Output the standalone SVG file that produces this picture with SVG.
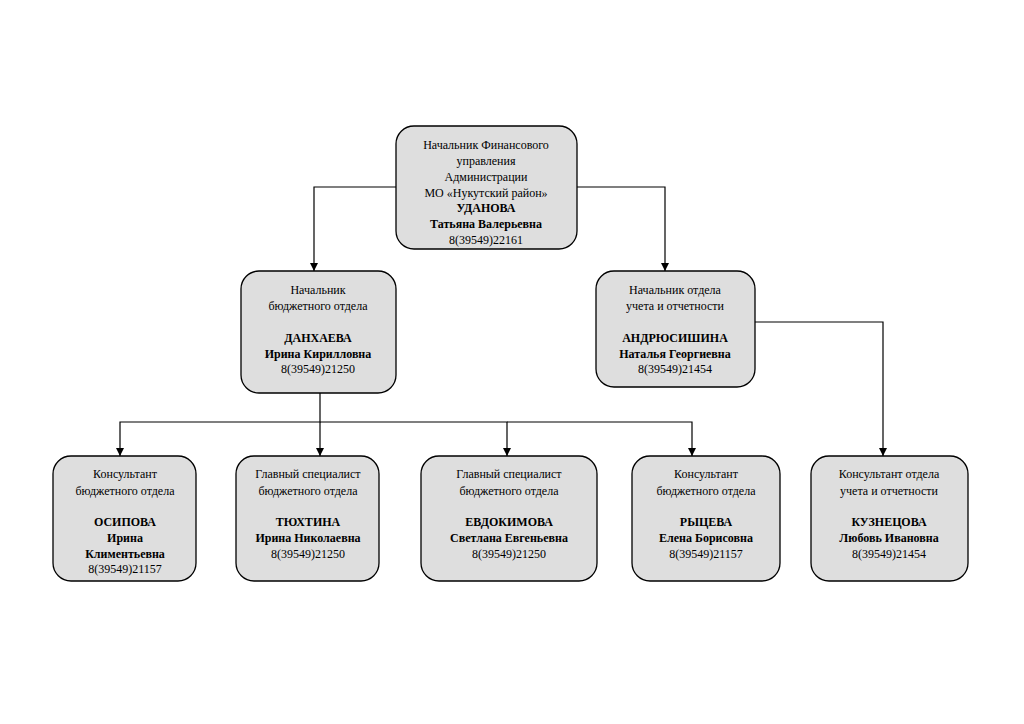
<svg xmlns="http://www.w3.org/2000/svg" width="1024" height="724" viewBox="0 0 1024 724">
<defs>
<marker id="a" viewBox="0 0 10 10" refX="10" refY="5" markerWidth="8" markerHeight="8" markerUnits="userSpaceOnUse" orient="auto"><path d="M0,0 L10,5 L0,10 z" fill="#000"/></marker>
<style>
.b{fill:#dedede;stroke:#000;stroke-width:1.3}
text{font-family:"Liberation Serif","Times New Roman",serif;font-size:12px;text-anchor:middle;fill:#000}
.k{font-weight:bold}
#c path{fill:none;stroke:#000;stroke-width:1.2;marker-end:url(#a)}
</style>
<clipPath id="cp"><rect x="396" y="126" width="181" height="123" rx="18"/></clipPath>
</defs>
<rect width="1024" height="724" fill="#fff"/>
<g id="c">
<path d="M396,187 H314 V271"/>
<path d="M577,187 H665 V271"/>
<path d="M320,393 V422 H120 V456"/>
<path d="M320,422 V456"/>
<path d="M320,422 H507 V456"/>
<path d="M507,422 H692 V456"/>
<path d="M755,322 H883 V456"/>
</g>
<g id="n0"><rect class="b" x="396" y="126" width="181" height="123" rx="18"/>
<g clip-path="url(#cp)"><text x="486" y="149">Начальник Финансового</text><text x="486" y="165">управления</text><text x="486" y="181">Администрации</text><text x="486" y="197">МО «Нукутский район»</text><text class="k" x="486" y="212">УДАНОВА</text><text class="k" x="486" y="228">Татьяна Валерьевна</text><text x="486" y="244">8(39549)22161</text></g></g>
<g id="n1"><rect class="b" x="241" y="271" width="155" height="122" rx="18"/>
<text x="318" y="294">Начальник</text><text x="318" y="310">бюджетного отдела</text><text class="k" x="318" y="342">ДАНХАЕВА</text><text class="k" x="318" y="358">Ирина Кирилловна</text><text x="318" y="373">8(39549)21250</text></g>
<g id="n2"><rect class="b" x="596" y="271" width="159" height="116" rx="18"/>
<text x="675" y="294">Начальник отдела</text><text x="675" y="310">учета и отчетности</text><text class="k" x="675" y="342">АНДРЮСИШИНА</text><text class="k" x="675" y="358">Наталья Георгиевна</text><text x="675" y="373">8(39549)21454</text></g>
<g id="n3"><rect class="b" x="53" y="456" width="143" height="125" rx="18"/>
<text x="125" y="478">Консультант</text><text x="125" y="495">бюджетного отдела</text><text class="k" x="125" y="526">ОСИПОВА</text><text class="k" x="125" y="542">Ирина</text><text class="k" x="125" y="558">Климентьевна</text><text x="125" y="573">8(39549)21157</text></g>
<g id="n4"><rect class="b" x="236" y="456" width="143" height="125" rx="18"/>
<text x="308" y="478">Главный специалист</text><text x="308" y="495">бюджетного отдела</text><text class="k" x="308" y="526">ТЮХТИНА</text><text class="k" x="308" y="542">Ирина Николаевна</text><text x="308" y="558">8(39549)21250</text></g>
<g id="n5"><rect class="b" x="421" y="456" width="176" height="125" rx="18"/>
<text x="509" y="478">Главный специалист</text><text x="509" y="495">бюджетного отдела</text><text class="k" x="509" y="526">ЕВДОКИМОВА</text><text class="k" x="509" y="542">Светлана Евгеньевна</text><text x="509" y="558">8(39549)21250</text></g>
<g id="n6"><rect class="b" x="632" y="456" width="148" height="125" rx="18"/>
<text x="706" y="478">Консультант</text><text x="706" y="495">бюджетного отдела</text><text class="k" x="706" y="526">РЫЦЕВА</text><text class="k" x="706" y="542">Елена Борисовна</text><text x="706" y="558">8(39549)21157</text></g>
<g id="n7"><rect class="b" x="811" y="456" width="157" height="125" rx="18"/>
<text x="889" y="478">Консультант  отдела</text><text x="889" y="495">учета и отчетности</text><text class="k" x="889" y="526">КУЗНЕЦОВА</text><text class="k" x="889" y="542">Любовь Ивановна</text><text x="889" y="558">8(39549)21454</text></g>
</svg>
